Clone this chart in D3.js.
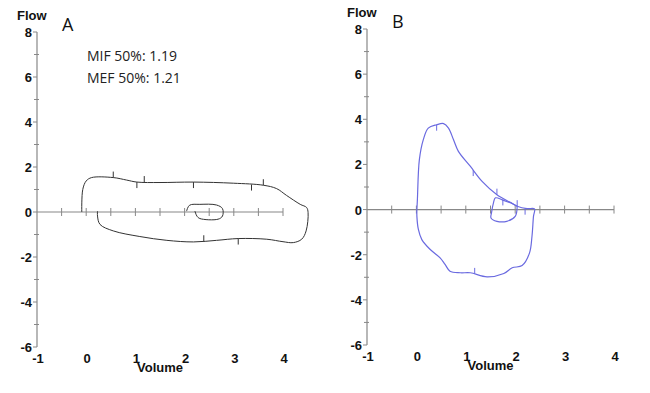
<!DOCTYPE html>
<html>
<head>
<meta charset="utf-8">
<script src="https://cdn.jsdelivr.net/npm/d3@7"></script>
<style>
  body { margin: 0; background: #fff; }
  svg { display: block; }
  .tick-label { font-family: "Liberation Sans", Arial, sans-serif; font-weight: bold; font-size: 13px; fill: #111; }
  .panel-letter { font-family: "Open Sans", sans-serif; font-size: 18px; fill: #111; }
  .note { font-family: "Open Sans", sans-serif; font-size: 14px; fill: #222; }
</style>
</head>
<body>
<svg id="canvas" width="650" height="393"></svg>
<script>
// axis values
let yTicks = [-6, -4, -2, 0, 2, 4, 6, 8]
let yMinor = [-5, -3, -1, 1, 3, 5, 7]
let xTickLabels = [-1, 0, 1, 2, 3, 4]
let xMinor = [-0.5, 0, 0.5, 1, 1.5, 2, 2.5, 3, 3.5, 4]

// panel A (flow-volume loop, volume in L, flow in L/s)
let loopA = [
  [0.23, 0.04], [0.23, -0.18], [0.28, -0.55], [0.55, -0.84], [1.09, -1.09],
  [1.64, -1.26], [2.18, -1.33], [2.65, -1.26], [3.09, -1.18], [3.67, -1.21],
  [4.0, -1.32], [4.21, -1.36], [4.38, -1.21], [4.47, -0.84], [4.51, -0.03],
  [4.48, 0.2], [4.35, 0.34], [4.07, 0.74], [3.87, 1.04], [3.6, 1.19],
  [2.99, 1.28], [2.18, 1.33], [1.5, 1.31], [1.03, 1.33], [0.82, 1.42],
  [0.55, 1.53], [0.11, 1.53], [0.0, 1.38], [-0.07, 1.0], [-0.09, 0.0]
]
let innerA = [
  [2.04, 0.04], [2.1, 0.3], [2.31, 0.34], [2.65, 0.31], [2.77, 0.15],
  [2.77, -0.18], [2.68, -0.32], [2.31, -0.29], [2.25, -0.18], [2.21, 0.04]
]
// small time marks on the trace: [volume, flow, direction]
let marksA = [[0.55, 1.53, 1], [1.03, 1.33, -1], [1.18, 1.33, 1], [2.18, 1.33, -1], [3.36, 1.22, -1], [3.6, 1.19, 1], [2.39, -1.3, 1], [3.09, -1.18, -1]]

// panel B
let loopB = [
  [0.01, 0.0], [0.02, 0.44], [0.06, 2.21], [0.14, 3.1], [0.24, 3.61],
  [0.41, 3.76], [0.55, 3.81], [0.65, 3.61], [0.75, 3.1], [0.85, 2.58],
  [1.09, 1.92], [1.33, 1.25], [1.63, 0.66], [1.9, 0.32], [2.04, 0.15],
  [2.24, 0.04], [2.39, 0.03], [2.37, -0.3], [2.34, -1.18], [2.29, -1.92],
  [2.14, -2.48], [1.94, -2.58], [1.77, -2.83], [1.43, -2.98], [1.09, -2.8],
  [0.89, -2.8], [0.68, -2.73], [0.58, -2.43], [0.48, -2.14], [0.28, -1.77],
  [0.11, -1.33], [0.04, -0.88], [0.01, -0.3], [0.01, 0.0]
]
let innerB = [
  [2.04, 0.15], [2.0, -0.3], [1.83, -0.52], [1.63, -0.52], [1.51, -0.37],
  [1.52, -0.15], [1.56, 0.3], [1.6, 0.52], [1.75, 0.42], [1.9, 0.3], [2.04, 0.15]
]
let marksB = [[0.41, 3.76, -1], [1.15, 1.75, -1], [1.63, 0.66, 1], [1.75, 0.45, -1], [2.04, 0.15, 1], [2.2, 0.04, -1], [1.18, -2.85, 1]]

let notesA = ['MIF 50%: 1.19', 'MEF 50%: 1.21']

let canvas = d3.select('#canvas')

let drawPanel = (opts) => {
  let x = d3.scaleLinear().domain([-1, 4]).range(opts.xRange)
  let y = d3.scaleLinear().domain([-6, 8]).range(opts.yRange)
  let g = canvas.append('g')
  let axisColor = '#888'

  // y axis
  g.append('line')
    .attr('x1', x(-1)).attr('x2', x(-1))
    .attr('y1', y(-6)).attr('y2', y(8))
    .attr('stroke', axisColor).attr('stroke-width', 1.2)
  g.selectAll('.ymaj').data(yTicks).enter().append('line')
    .attr('x1', x(-1) - 4).attr('x2', x(-1))
    .attr('y1', (d) => y(d)).attr('y2', (d) => y(d))
    .attr('stroke', axisColor)
  g.selectAll('.ymin').data(yMinor).enter().append('line')
    .attr('x1', x(-1) - 3).attr('x2', x(-1) + 2)
    .attr('y1', (d) => y(d)).attr('y2', (d) => y(d))
    .attr('stroke', axisColor)
  g.selectAll('.ylab').data(yTicks).enter().append('text')
    .attr('class', 'tick-label')
    .attr('x', x(-1) - 5)
    .attr('y', (d) => y(d) + 5)
    .attr('text-anchor', 'end')
    .text((d) => d)

  // x axis at flow 0
  g.append('line')
    .attr('x1', x(-1)).attr('x2', x(4))
    .attr('y1', y(0)).attr('y2', y(0))
    .attr('stroke', axisColor).attr('stroke-width', 1.2)
  g.selectAll('.xmin').data(xMinor).enter().append('line')
    .attr('x1', (d) => x(d)).attr('x2', (d) => x(d))
    .attr('y1', y(0) - 4).attr('y2', y(0) + 4)
    .attr('stroke', axisColor)
  g.selectAll('.xlab').data(xTickLabels).enter().append('text')
    .attr('class', 'tick-label')
    .attr('x', (d) => x(d) + 1)
    .attr('y', y(-6) + 16)
    .attr('text-anchor', 'middle')
    .text((d) => d)

  g.append('text').attr('class', 'tick-label')
    .attr('x', x(1.5)).attr('y', y(-6) + 25)
    .attr('text-anchor', 'middle')
    .text('Volume')
  g.append('text').attr('class', 'tick-label')
    .attr('x', x(-1) - 20).attr('y', y(8) - 12)
    .text('Flow')
  g.append('text').attr('class', 'panel-letter')
    .attr('x', x(-1) + 25).attr('y', y(8) - 1)
    .text(opts.letter)

  let line = d3.line()
    .x((d) => x(d[0]))
    .y((d) => y(d[1]))
    .curve(d3.curveCatmullRom)

  opts.loops.forEach((pts) => {
    g.append('path')
      .attr('d', line(pts))
      .attr('fill', 'none')
      .attr('stroke', opts.color)
      .attr('stroke-width', opts.width)
  })

  g.selectAll('.mark').data(opts.marks).enter().append('line')
    .attr('x1', (d) => x(d[0])).attr('x2', (d) => x(d[0]))
    .attr('y1', (d) => y(d[1]))
    .attr('y2', (d) => y(d[1]) - 6 * d[2])
    .attr('stroke', opts.color).attr('stroke-width', 1)

  if (opts.notes) {
    g.selectAll('.note').data(opts.notes).enter().append('text')
      .attr('class', 'note')
      .attr('x', x(-1) + 50)
      .attr('y', (d, i) => y(8) + 29 + i * 22)
      .text((d) => d)
  }
}

drawPanel({
  letter: 'A', xRange: [37, 283], yRange: [347, 32],
  loops: [loopA, innerA], marks: marksA, color: '#333', width: 1, notes: notesA
})
drawPanel({
  letter: 'B', xRange: [367, 614], yRange: [345, 29],
  loops: [loopB, innerB], marks: marksB, color: '#6a6ae0', width: 1.2
})
</script>
</body>
</html>
